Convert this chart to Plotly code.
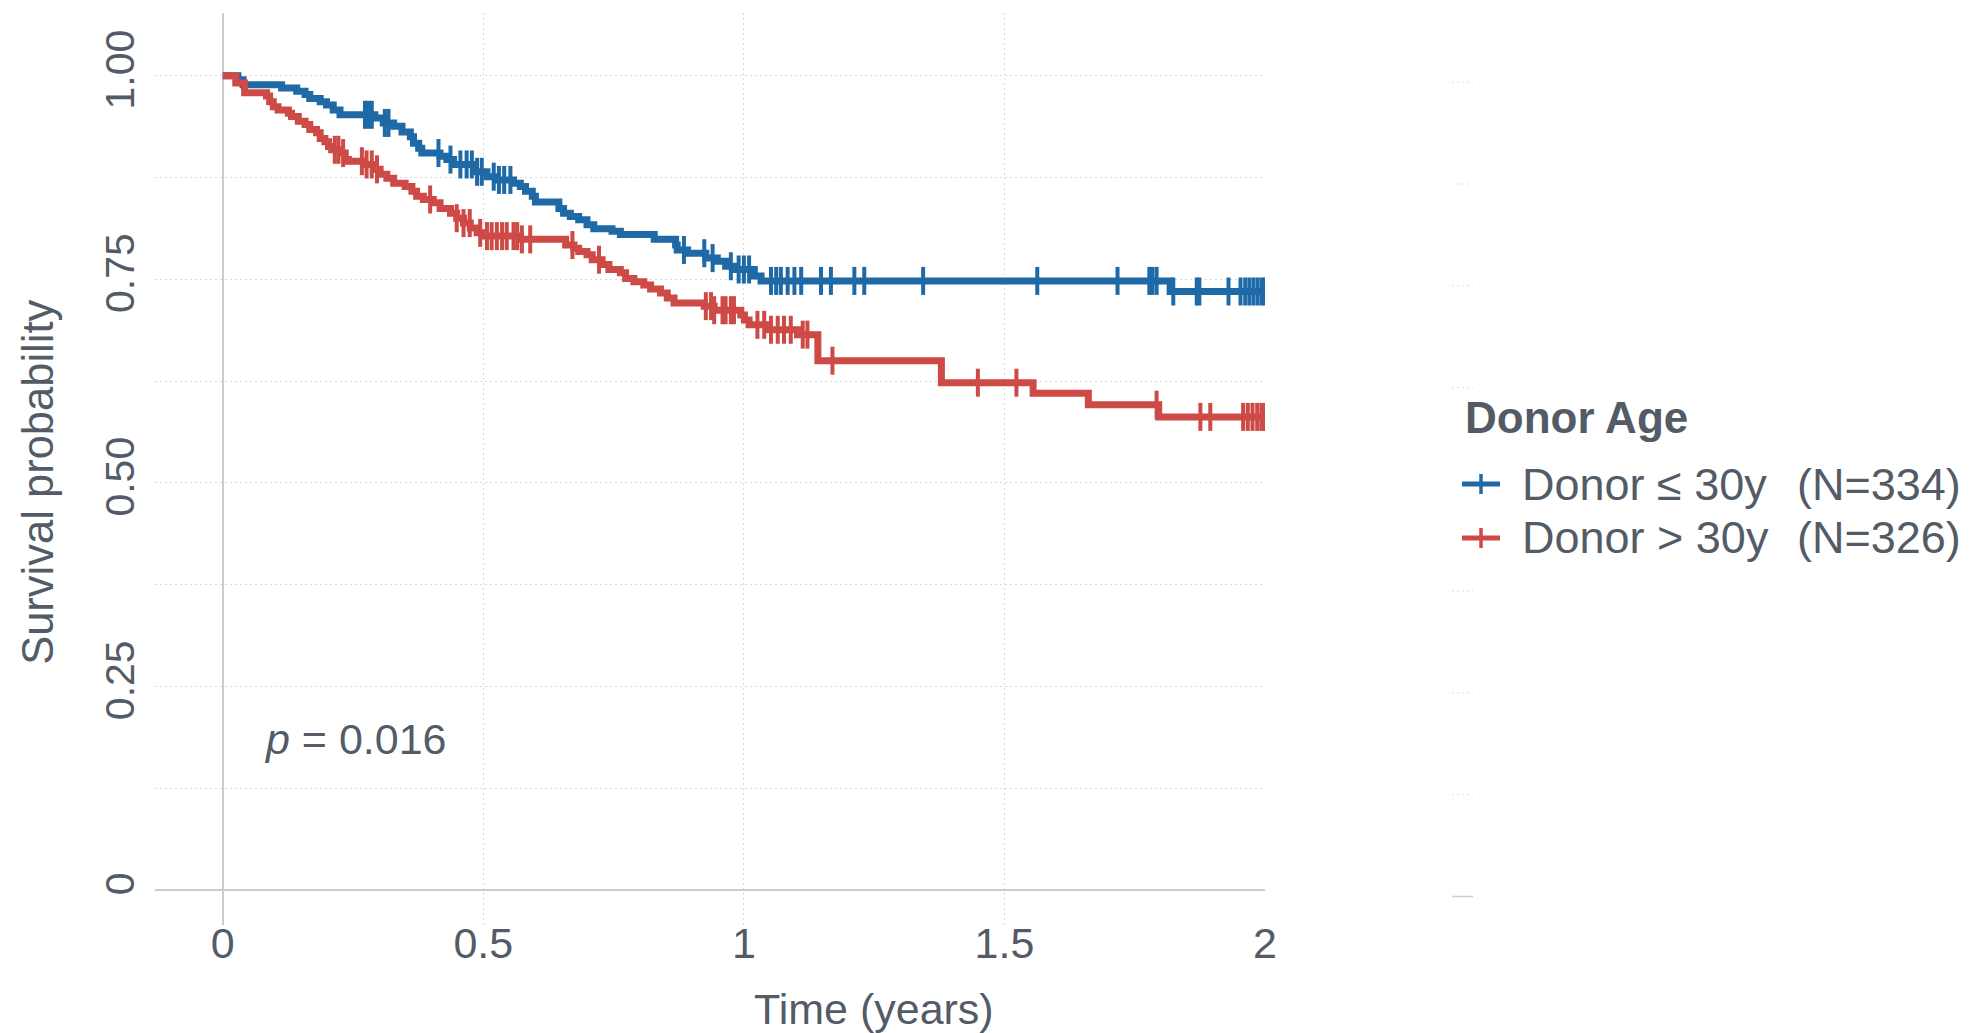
import numpy as np
import plotly.graph_objects as go

# ---- Data ----
blue_event_t = [0.029, 0.039, 0.113, 0.142, 0.158, 0.167, 0.187, 0.199, 0.212, 0.225,
                0.292, 0.308, 0.328, 0.344, 0.360, 0.366, 0.376, 0.382, 0.417, 0.430,
                0.443, 0.481, 0.507, 0.525, 0.558, 0.571, 0.581, 0.594, 0.600, 0.645,
                0.654, 0.667, 0.683, 0.699, 0.712, 0.747, 0.763, 0.828, 0.869, 0.872,
                0.892, 0.927, 0.949, 0.965, 0.981, 1.020, 1.033, 1.818]
blue_event_s = [0.995, 0.989, 0.985, 0.981, 0.977, 0.972, 0.968, 0.964, 0.958, 0.952,
                0.948, 0.942, 0.938, 0.931, 0.925, 0.917, 0.911, 0.905, 0.901, 0.897,
                0.891, 0.882, 0.876, 0.872, 0.868, 0.864, 0.858, 0.852, 0.845, 0.837,
                0.831, 0.827, 0.823, 0.817, 0.812, 0.809, 0.805, 0.799, 0.792, 0.786,
                0.782, 0.776, 0.772, 0.766, 0.762, 0.754, 0.748, 0.735]
blue_censor_t = [0.273, 0.279, 0.286, 0.311, 0.318, 0.414, 0.437, 0.456, 0.468, 0.478,
                 0.488, 0.497, 0.520, 0.530, 0.540, 0.552, 0.885, 0.924, 0.940, 0.975,
                 0.990, 1.000, 1.010, 1.052, 1.062, 1.071, 1.084, 1.097, 1.110, 1.148,
                 1.167, 1.212, 1.231, 1.344, 1.563, 1.717, 1.778, 1.784, 1.792, 1.824,
                 1.869, 1.874, 1.930, 1.953, 1.962, 1.970, 1.978, 1.986, 1.994, 2.000]

red_event_t = [0.025, 0.042, 0.084, 0.090, 0.097, 0.106, 0.126, 0.132, 0.145, 0.158,
               0.167, 0.180, 0.187, 0.196, 0.203, 0.209, 0.225, 0.235, 0.241, 0.270,
               0.289, 0.302, 0.315, 0.328, 0.350, 0.363, 0.372, 0.385, 0.404, 0.417,
               0.437, 0.449, 0.462, 0.475, 0.488, 0.504, 0.571, 0.658, 0.674, 0.683,
               0.699, 0.709, 0.728, 0.741, 0.763, 0.773, 0.789, 0.808, 0.821, 0.840,
               0.853, 0.866, 0.924, 0.943, 0.994, 1.001, 1.010, 1.046, 1.103, 1.142,
               1.379, 1.555, 1.661, 1.796]
red_event_s = [0.991, 0.979, 0.975, 0.968, 0.962, 0.958, 0.954, 0.950, 0.944, 0.940,
               0.934, 0.930, 0.923, 0.919, 0.913, 0.909, 0.905, 0.897, 0.895, 0.891,
               0.885, 0.879, 0.874, 0.868, 0.864, 0.858, 0.852, 0.848, 0.844, 0.837,
               0.831, 0.825, 0.819, 0.813, 0.807, 0.803, 0.799, 0.792, 0.788, 0.784,
               0.780, 0.774, 0.768, 0.762, 0.758, 0.751, 0.747, 0.743, 0.738, 0.733,
               0.727, 0.721, 0.717, 0.712, 0.706, 0.700, 0.694, 0.688, 0.682, 0.650,
               0.623, 0.610, 0.596, 0.581]
red_censor_t = [0.215, 0.222, 0.231, 0.267, 0.276, 0.286, 0.296, 0.398, 0.449, 0.462,
                0.474, 0.494, 0.507, 0.516, 0.526, 0.536, 0.545, 0.558, 0.565, 0.574,
                0.590, 0.671, 0.722, 0.927, 0.937, 0.943, 0.959, 0.965, 0.975, 0.981,
                1.026, 1.039, 1.052, 1.065, 1.077, 1.090, 1.113, 1.122, 1.170, 1.449,
                1.523, 1.792, 1.876, 1.895, 1.958, 1.967, 1.976, 1.985, 1.993, 2.000]

legend_title = "Donor Age"
group_names = ["Donor ≤ 30y", "Donor > 30y"]
group_counts = [334, 326]
p_value_text = "0.016"
x_ticks = [0, 0.5, 1, 1.5, 2]
x_tick_text = ["0", "0.5", "1", "1.5", "2"]
y_ticks = [0, 0.125, 0.25, 0.375, 0.5, 0.625, 0.75, 0.875, 1.0]
y_tick_text = ["0", "", "0.25", "", "0.50", "", "0.75", "", "1.00"]
t_max = 2.0

BLUE = "#1f69a6"
RED = "#cd4a46"
TEXT = "#535c66"
GRID = "#d9d9d9"
FONT = "Liberation Sans, Arial, Helvetica, sans-serif"

# plot-area geometry (pixels) used to place the hand-made legend
W, H = 1977, 1033
ML, MR, MT, MB = 155, 712, 13, 108
PW, PH = W - ML - MR, H - MT - MB


def px_x(px):
    return (px - ML) / PW


def px_y(py):
    return (H - MB - py) / PH


def step_curve(ev_t, ev_s):
    x = [0.0] + list(ev_t) + [t_max]
    y = [1.0] + list(ev_s) + [ev_s[-1]]
    return x, y


def surv_at(ev_t, ev_s, t):
    ev_t = np.asarray(ev_t)
    idx = np.searchsorted(ev_t, t, side="right") - 1
    return np.where(idx >= 0, np.asarray(ev_s)[np.clip(idx, 0, None)], 1.0)


fig = go.Figure()

groups = [
    (blue_event_t, blue_event_s, blue_censor_t, BLUE),
    (red_event_t, red_event_s, red_censor_t, RED),
]

for (et, es, ct, col), name, n in zip(groups, group_names, group_counts):
    xs, ys = step_curve(et, es)
    fig.add_trace(go.Scatter(x=xs, y=ys, mode="lines", name=name,
                             line=dict(color=col, width=7, shape="hv"),
                             showlegend=False, hoverinfo="skip"))
    cy = surv_at(et, es, np.asarray(ct))
    fig.add_trace(go.Scatter(x=ct, y=cy, mode="markers", name=name,
                             marker=dict(symbol="line-ns", size=20, line=dict(color=col, width=4)),
                             showlegend=False, hoverinfo="skip"))

# ---- legend (drawn by hand for exact spacing) ----
fig.add_annotation(x=px_x(1463), y=px_y(417), xref="paper", yref="paper",
                   text=f"<b>{legend_title}</b>", showarrow=False,
                   xanchor="left", yanchor="middle",
                   font=dict(family=FONT, size=44, color=TEXT))
item_py = [484, 538]
for (et, es, ct, col), name, n, py in zip(groups, group_names, group_counts, item_py):
    fig.add_shape(type="line", xref="paper", yref="paper",
                  x0=px_x(1462), x1=px_x(1500), y0=px_y(py), y1=px_y(py),
                  line=dict(color=col, width=5))
    fig.add_shape(type="line", xref="paper", yref="paper",
                  x0=px_x(1481), x1=px_x(1481), y0=px_y(py - 10), y1=px_y(py + 10),
                  line=dict(color=col, width=3.5))
    fig.add_annotation(x=px_x(1520), y=px_y(py), xref="paper", yref="paper",
                       text=name, showarrow=False, xanchor="left", yanchor="middle",
                       font=dict(family=FONT, size=45, color=TEXT))
    fig.add_annotation(x=px_x(1795), y=px_y(py), xref="paper", yref="paper",
                       text=f"(N={n})", showarrow=False, xanchor="left", yanchor="middle",
                       font=dict(family=FONT, size=45, color=TEXT))

# p-value annotation
fig.add_annotation(x=0.075, y=0.185, xref="x", yref="y", text=f"<i>p</i> = {p_value_text}",
                   showarrow=False, xanchor="left", yanchor="middle",
                   font=dict(family=FONT, size=43, color=TEXT))
# axis titles
fig.add_annotation(x=1.25, y=-0.092, xref="x", yref="paper", text="Time (years)",
                   showarrow=False, xanchor="center", yanchor="middle",
                   font=dict(family=FONT, size=43, color=TEXT))
fig.add_annotation(x=px_x(38), y=0.5, xref="paper", yref="y", text="Survival probability",
                   showarrow=False, textangle=-90, xanchor="center", yanchor="middle",
                   font=dict(family=FONT, size=43.5, color=TEXT))

# faint grid fragments at the right side (as in reference)
for gy in [1.0, 0.875, 0.75, 0.625, 0.375, 0.25, 0.125]:
    fig.add_shape(type="line", xref="paper", yref="y", x0=px_x(1452), x1=px_x(1473),
                  y0=gy - 0.008, y1=gy - 0.008,
                  line=dict(color="#dddddd", width=1, dash="2px,3px"))
fig.add_shape(type="line", xref="paper", yref="y", x0=px_x(1452), x1=px_x(1473),
              y0=-0.008, y1=-0.008, line=dict(color="#cfcfcf", width=1.5))

fig.update_layout(
    width=W, height=H,
    margin=dict(l=ML, r=MR, t=MT, b=MB, autoexpand=False),
    paper_bgcolor="white", plot_bgcolor="white",
    font=dict(family=FONT, color=TEXT),
    showlegend=False,
    xaxis=dict(
        range=[-0.13, 2.0], tickmode="array", tickvals=x_ticks, ticktext=x_tick_text,
        showgrid=True, gridcolor=GRID, griddash="2px,3px", gridwidth=1,
        zeroline=True, zerolinecolor="#cccccc", zerolinewidth=1.5,
        showline=False, ticks="", tickfont=dict(family=FONT, size=43, color=TEXT),
        ticklabelstandoff=-11, automargin=False,
    ),
    yaxis=dict(
        range=[-0.043, 1.077], tickmode="array", tickvals=y_ticks, ticktext=y_tick_text,
        tickangle=-90,
        showgrid=True, gridcolor=GRID, griddash="2px,3px", gridwidth=1,
        zeroline=True, zerolinecolor="#cccccc", zerolinewidth=2,
        showline=False, ticks="", tickfont=dict(family=FONT, size=41, color=TEXT),
        ticklabelstandoff=12, automargin=False,
    ),
)

fig.write_html("out.html", config={"displayModeBar": False},
               post_script="document.body.style.margin='0px';document.body.style.overflow='hidden';")
